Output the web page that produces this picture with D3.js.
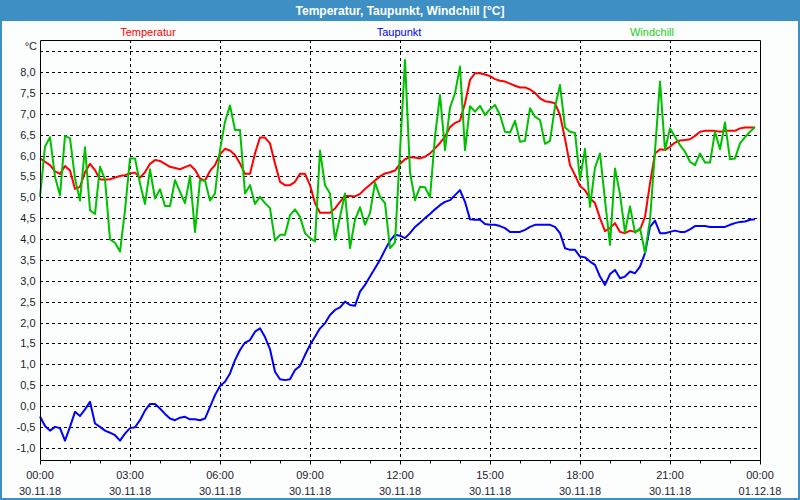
<!DOCTYPE html>
<html lang="de">
<head>
<meta charset="utf-8">
<title>Temperatur, Taupunkt, Windchill</title>
<script src="https://cdn.jsdelivr.net/npm/d3@7"></script>
<style>
  body { margin: 0; background: #fff; }
  svg { display: block; font-family: "Liberation Sans", Arial, sans-serif; }
</style>
</head>
<body>
<script>
// readings every 10 minutes, 30.11.18 00:00 .. 23:50
var stepMin = 10

var temperatur = [
  5.93, 5.85, 5.77, 5.62, 5.56, 5.75, 5.64, 5.20, 5.25, 5.60,
  5.80, 5.65, 5.43, 5.42, 5.43, 5.47, 5.51, 5.53, 5.57, 5.59,
  5.47, 5.60, 5.80, 5.89, 5.87, 5.80, 5.73, 5.70, 5.67, 5.72,
  5.77, 5.66, 5.45, 5.40, 5.63, 5.77, 6.03, 6.16, 6.12, 6.01,
  5.81, 5.56, 5.56, 6.05, 6.43, 6.43, 6.29, 5.81, 5.37, 5.29,
  5.29, 5.37, 5.56, 5.56, 5.29, 4.86, 4.63, 4.63, 4.63, 4.73,
  4.89, 5.03, 5.03, 5.02, 5.08, 5.20, 5.30, 5.40, 5.50, 5.57,
  5.60, 5.64, 5.80, 5.91, 5.96, 5.95, 5.93, 5.97, 6.05, 6.17,
  6.30, 6.45, 6.68, 6.78, 6.83, 7.25, 7.81, 7.97, 7.97, 7.94,
  7.90, 7.83, 7.79, 7.77, 7.72, 7.67, 7.63, 7.63, 7.58, 7.50,
  7.37, 7.30, 7.28, 7.25, 6.97, 6.40, 5.77, 5.53, 5.27, 5.17,
  4.97, 4.86, 4.50, 4.19, 4.26, 4.38, 4.17, 4.14, 4.20, 4.17,
  4.22, 4.53, 5.33, 6.05, 6.15, 6.13, 6.21, 6.31, 6.36, 6.37,
  6.39, 6.47, 6.57, 6.59, 6.59, 6.59, 6.57, 6.59, 6.59, 6.59,
  6.65, 6.67, 6.67, 6.67
]

var taupunkt = [
  -0.25, -0.48, -0.59, -0.50, -0.53, -0.83, -0.50, -0.14, -0.24, -0.08,
  0.10, -0.42, -0.50, -0.59, -0.64, -0.70, -0.83, -0.66, -0.53, -0.51,
  -0.34, -0.11, 0.05, 0.05, -0.06, -0.19, -0.30, -0.34, -0.28, -0.26,
  -0.32, -0.32, -0.34, -0.30, -0.02, 0.26, 0.48, 0.58, 0.78, 1.10,
  1.34, 1.52, 1.58, 1.78, 1.86, 1.65, 1.36, 0.82, 0.64, 0.62,
  0.64, 0.86, 0.96, 1.22, 1.46, 1.66, 1.86, 1.98, 2.18, 2.30,
  2.36, 2.50, 2.42, 2.40, 2.74, 2.90, 3.10, 3.30, 3.50, 3.74,
  3.96, 4.10, 4.08, 4.02, 4.14, 4.29, 4.39, 4.50, 4.60, 4.71,
  4.81, 4.89, 4.93, 5.05, 5.17, 4.89, 4.47, 4.46, 4.46, 4.36,
  4.34, 4.34, 4.31, 4.26, 4.17, 4.17, 4.17, 4.22, 4.29, 4.34,
  4.34, 4.34, 4.34, 4.29, 4.14, 3.78, 3.74, 3.74, 3.58, 3.56,
  3.46, 3.38, 3.10, 2.90, 3.16, 3.26, 3.06, 3.10, 3.22, 3.18,
  3.34, 3.66, 4.29, 4.44, 4.14, 4.14, 4.17, 4.20, 4.17, 4.17,
  4.23, 4.31, 4.31, 4.31, 4.29, 4.29, 4.29, 4.29, 4.34, 4.38,
  4.41, 4.42, 4.46, 4.47
]

var windchill = [
  5.01, 6.21, 6.44, 5.49, 5.05, 6.47, 6.41, 5.45, 4.92, 6.20,
  4.69, 4.60, 5.73, 5.43, 3.99, 3.91, 3.70, 4.69, 5.93, 5.93,
  5.33, 4.84, 5.67, 4.97, 5.19, 4.79, 4.79, 5.41, 5.13, 4.86,
  5.51, 4.17, 5.41, 5.40, 4.92, 5.09, 6.13, 6.81, 7.20, 6.61,
  6.61, 5.09, 5.29, 4.84, 5.01, 4.86, 4.74, 3.96, 4.10, 4.10,
  4.57, 4.71, 4.53, 4.14, 4.02, 3.94, 6.12, 5.29, 5.09, 3.98,
  4.53, 5.09, 3.78, 4.46, 4.76, 4.34, 4.62, 5.35, 5.01, 4.86,
  3.78, 3.92, 6.10, 8.29, 5.60, 4.93, 5.25, 5.24, 5.00, 6.45,
  7.45, 6.13, 7.15, 7.49, 8.13, 6.13, 7.18, 7.05, 7.19, 6.97,
  7.11, 7.21, 6.97, 6.57, 6.55, 6.83, 6.33, 6.35, 7.13, 6.93,
  6.85, 6.28, 6.35, 7.17, 7.69, 6.67, 6.57, 6.54, 5.43, 6.16,
  4.77, 5.71, 6.05, 4.93, 3.86, 5.69, 5.07, 4.16, 4.78, 4.15,
  4.26, 3.67, 4.46, 6.11, 7.77, 6.13, 6.65, 6.45, 6.25, 6.09,
  5.85, 5.77, 6.05, 5.83, 5.83, 6.57, 6.15, 6.79, 5.91, 5.93,
  6.29, 6.44, 6.57, 6.68
]

var yTicks = [-1, -0.5, 0, 0.5, 1, 1.5, 2, 2.5, 3, 3.5, 4, 4.5, 5, 5.5, 6, 6.5, 7, 7.5, 8]
var yGrid = yTicks.concat([8.5])
var xTickHours = [0, 3, 6, 9, 12, 15, 18, 21, 24]
var timeLabels = ["00:00", "03:00", "06:00", "09:00", "12:00", "15:00", "18:00", "21:00", "00:00"]
var dateLabels = ["30.11.18", "30.11.18", "30.11.18", "30.11.18", "30.11.18", "30.11.18", "30.11.18", "30.11.18", "01.12.18"]

var series = [
  { name: "Temperatur", values: temperatur, color: "#ff0000", lx: 148 },
  { name: "Taupunkt", values: taupunkt, color: "#0000ff", lx: 399 },
  { name: "Windchill", values: windchill, color: "#00c000", lx: 652 }
]

var W = 800, H = 500
var plotLeft = 40, plotRight = 760, plotTop = 40, plotBottom = 460

var svg = d3.select("body").append("svg")
  .attr("width", W)
  .attr("height", H)

// window frame + title bar
svg.append("rect").attr("width", W).attr("height", H).attr("fill", "#3d8fc4")
svg.append("rect").attr("x", 2).attr("y", 21).attr("width", W - 4).attr("height", H - 23).attr("fill", "#fcfefd")
svg.append("text")
  .attr("x", W / 2).attr("y", 15)
  .attr("text-anchor", "middle")
  .attr("fill", "#fff")
  .attr("font-weight", "bold")
  .attr("font-size", 12)
  .text("Temperatur, Taupunkt, Windchill [°C]")

var x = d3.scaleLinear().domain([0, 24]).range([plotLeft, plotRight])
var y = d3.scaleLinear().domain([-1, 8]).range([447.75, 72])

// grid
svg.append("g").selectAll("line").data(yGrid).enter().append("line")
  .attr("x1", plotLeft).attr("x2", plotRight)
  .attr("y1", function (d) { return Math.round(y(d)) + 0.5 })
  .attr("y2", function (d) { return Math.round(y(d)) + 0.5 })
  .attr("stroke", "#000").attr("stroke-dasharray", "3,3")
svg.append("g").selectAll("line").data(xTickHours.slice(1, -1)).enter().append("line")
  .attr("x1", function (d) { return Math.round(x(d)) + 0.5 })
  .attr("x2", function (d) { return Math.round(x(d)) + 0.5 })
  .attr("y1", plotTop).attr("y2", plotBottom)
  .attr("stroke", "#000").attr("stroke-dasharray", "3,3")

// axes
var yAxis = d3.axisLeft(y).tickValues(yTicks).tickSize(0).tickPadding(4)
  .tickFormat(function (d) { return d3.format(".1f")(d).replace(".", ",").replace("\u2212", "-") })
var gy = svg.append("g").attr("transform", "translate(" + (plotLeft - 0.5) + ",0)").call(yAxis)
gy.select(".domain").remove()
gy.selectAll("text").attr("font-size", 11).attr("fill", "#1c1c30").attr("font-family", "Liberation Sans, Arial, sans-serif")

var xAxis = d3.axisBottom(x).tickValues(d3.range(0, 25)).tickSize(3).tickFormat("")
var gx = svg.append("g").attr("transform", "translate(0," + (plotBottom + 0.5) + ")").call(xAxis)
gx.select(".domain").remove()
gx.selectAll("line").attr("stroke", "#000")
  .attr("y2", function (d) { return d % 3 == 0 ? 4 : 3 })

var xl = svg.append("g").selectAll("g").data(xTickHours).enter().append("g")
  .attr("transform", function (d) { return "translate(" + x(d) + ",0)" })
  .attr("font-size", 11).attr("fill", "#1c1c30").attr("text-anchor", "middle")
xl.append("text").attr("y", 479).text(function (d, i) { return timeLabels[i] })
xl.append("text").attr("y", 495).text(function (d, i) { return dateLabels[i] })

svg.append("text").attr("x", 37).attr("y", 50).attr("text-anchor", "end")
  .attr("font-size", 11).attr("fill", "#1c1c30").text("°C")

// series
var line = d3.line()
  .x(function (d, i) { return x(i * stepMin / 60) })
  .y(function (d) { return y(d) })

var drawOrder = [series[1], series[0], series[2]]
svg.append("g").selectAll("path").data(drawOrder).enter().append("path")
  .attr("d", function (s) { return line(s.values) })
  .attr("fill", "none")
  .attr("stroke", function (s) { return s.color })
  .attr("stroke-width", 2)
  .attr("stroke-linejoin", "round")

// frame
svg.append("path")
  .attr("d", "M" + (plotLeft + 0.5) + "," + (plotBottom + 0.5) + "V" + (plotTop + 0.5) + "H" + (plotRight + 0.5) + "V" + (plotBottom + 0.5) + "H" + (plotLeft + 0.5))
  .attr("fill", "none").attr("stroke", "#000")

// legend
svg.append("g").selectAll("text").data(series).enter().append("text")
  .attr("x", function (s) { return s.lx }).attr("y", 36)
  .attr("text-anchor", "middle").attr("font-size", 11)
  .attr("fill", function (s) { return s.color == "#00c000" ? "#22cc22" : s.color })
  .text(function (s) { return s.name })
</script>
</body>
</html>
